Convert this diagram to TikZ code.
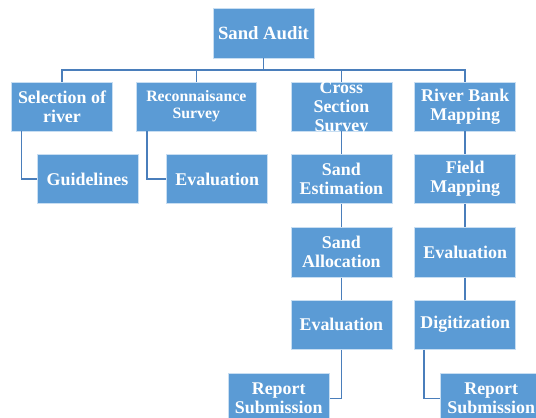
\documentclass[tikz,border=0pt]{standalone}
\usepackage{fontspec}
\setmainfont{Liberation Serif}

\definecolor{boxblue}{RGB}{91,155,213}
\definecolor{edgeblue}{RGB}{200,222,242}
\definecolor{lineblue}{RGB}{74,126,187}

\begin{document}
\begin{tikzpicture}[x=1pt,y=-1pt,semithick]
    \tikzstyle{box}=[rectangle, fill=boxblue, draw=edgeblue, line width=0.8pt, text=white, minimum width=101pt, minimum height=49pt, inner sep=0pt, align=center, font=\bfseries\fontsize{17.9}{19}\selectfont]
    \tikzstyle{link}=[draw=lineblue, line width=1.6pt]
    \useasboundingbox (0,0) rectangle (536,418);

	\node [box, minimum height=50pt, font=\bfseries\fontsize{18.7}{19}\selectfont] (audit) at (263.5, 33) {Sand Audit};

	\node [box, minimum width=100.6pt] (sel) at (62, 106.5) {Selection of\\river};
	\node [box, minimum width=120.7pt, font=\bfseries\fontsize{15.8}{17.4}\selectfont] (rec) at (196.3, 106.5) {Reconnaisance\\Survey};
	\node [box] (cross) at (341.4, 106.5) {\raisebox{-6.9pt}[0pt][0pt]{\begin{tabular}{@{}c@{}}Cross\\Section\\Survey\end{tabular}}};
	\node [box] (river) at (465.2, 106.5) {River Bank\\Mapping};

	\node [box] (guide) at (87.5, 179) {Guidelines};
	\node [box] (evalrec) at (217.2, 179) {Evaluation};
	\node [box] (sandest) at (341.4, 179) {Sand\\Estimation};
	\node [box] (field) at (465.2, 179) {Field\\Mapping};

	\node [box, minimum height=50pt] (sandalloc) at (341.4, 252.3) {Sand\\Allocation};
	\node [box, minimum height=50pt] (evalriver) at (465.2, 252.3) {Evaluation};

	\node [box] (evalcross) at (341.4, 324.7) {Evaluation};
	\node [box] (digit) at (465.2, 324.7) {Digitization};

	\node [box, minimum height=50pt] (repcross) at (278.7, 398.3) {Report\\Submission};
	\node [box, minimum height=50pt] (repriver) at (491.2, 398.3) {Report\\Submission};

	% top level bus
	\coordinate (bus) at (263.5, 70);
	\draw [link] (audit.south) -- (bus);
	\draw [link] (sel.north) |- (bus) -| (river.north);
	\draw [link] (rec.north) -- (rec.north |- bus);
	\draw [link] (cross.north) -- (cross.north |- bus);

	% elbows
	\draw [link] ([xshift=10pt]sel.south west) |- (guide.west);
	\draw [link] ([xshift=11.7pt]rec.south west) |- (evalrec.west);
	\draw [link] (evalcross.south) |- (repcross.east);
	\draw [link] ([xshift=9.7pt]digit.south west) |- (repriver.west);

	% columns
	\draw [link] (cross) -- (sandest);
	\draw [link] (sandest) -- (sandalloc);
	\draw [link] (sandalloc) -- (evalcross);
	\draw [link] (river) -- (field);
	\draw [link] (field) -- (evalriver);
	\draw [link] (evalriver) -- (digit);
\end{tikzpicture}
\end{document}
